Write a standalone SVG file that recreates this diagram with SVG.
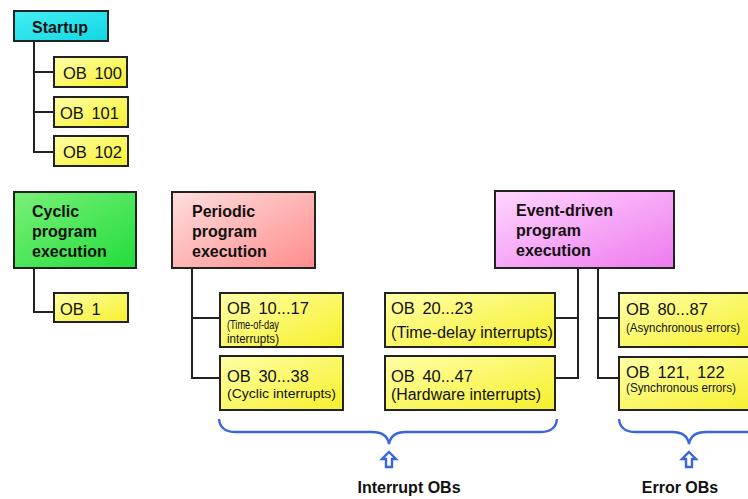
<svg xmlns="http://www.w3.org/2000/svg" width="748" height="499" viewBox="0 0 748 499">
<defs>
<linearGradient id="gy" x1="0" y1="0" x2="1" y2="1"><stop offset="0" stop-color="#ffffa8"/><stop offset="1" stop-color="#f6f02a"/></linearGradient>
<linearGradient id="gc" x1="0" y1="0" x2="1" y2="1"><stop offset="0" stop-color="#44eef4"/><stop offset="1" stop-color="#10d8e4"/></linearGradient>
<linearGradient id="gg" x1="0" y1="0" x2="1" y2="1"><stop offset="0" stop-color="#7af07a"/><stop offset="1" stop-color="#22dd3a"/></linearGradient>
<linearGradient id="gp" x1="0" y1="0" x2="1" y2="1"><stop offset="0" stop-color="#ffdede"/><stop offset="1" stop-color="#ff8c8c"/></linearGradient>
<linearGradient id="gm" x1="0" y1="0" x2="1" y2="1"><stop offset="0" stop-color="#ffd6ff"/><stop offset="1" stop-color="#ee7aee"/></linearGradient>
</defs>
<style>
.box{stroke:#222;stroke-width:2}
.y{fill:url(#gy)}
.h{font-family:"Liberation Sans",Arial,sans-serif;font-weight:bold;font-size:16px;fill:#111}
.t{font-family:"Liberation Sans",Arial,sans-serif;font-size:16.5px;fill:#111;word-spacing:3px}
.s{font-family:"Liberation Sans",Arial,sans-serif;font-size:12.5px;fill:#111}
.m{font-family:"Liberation Sans",Arial,sans-serif;font-size:16px;fill:#111}
.c{fill:none;stroke:#222;stroke-width:2}
.b{fill:none;stroke:#3a66dd;stroke-width:2.4}
</style>
<rect width="748" height="499" fill="#fff"/>
<g id="connectors">
<path class="c" d="M34 41V152H54M34 72H54M34 112H54"/>
<path class="c" d="M34 268V312H54"/>
<path class="c" d="M192 268V378H220M192 318H220"/>
<path class="c" d="M578 268V378H555M578 318H555"/>
<path class="c" d="M598 268V378H619M598 318H619"/>
</g>
<g id="startup"><rect class="box" x="14" y="11" width="94" height="30" fill="url(#gc)"/><text class="h" x="32" y="33">Startup</text></g>
<g id="ob100"><rect class="box y" x="54" y="57" width="73" height="30"/><text class="t" x="63" y="79">OB 100</text></g>
<g id="ob101"><rect class="box y" x="54" y="97" width="74" height="30"/><text class="t" x="60" y="119">OB 101</text></g>
<g id="ob102"><rect class="box y" x="54" y="136" width="74" height="30"/><text class="t" x="63" y="158">OB 102</text></g>
<g id="cyclic"><rect class="box" x="14" y="192" width="122" height="76" fill="url(#gg)"/><text class="h" x="32" y="217">Cyclic</text><text class="h" x="32" y="237">program</text><text class="h" x="32" y="257">execution</text></g>
<g id="ob1"><rect class="box y" x="54" y="293" width="74" height="29"/><text class="t" x="60" y="315">OB 1</text></g>
<g id="periodic"><rect class="box" x="172" y="192" width="143" height="76" fill="url(#gp)"/><text class="h" x="192" y="217">Periodic</text><text class="h" x="192" y="237">program</text><text class="h" x="192" y="257">execution</text></g>
<g id="ob10"><rect class="box y" x="220" y="293" width="123" height="54"/><text class="t" x="227" y="314">OB 10...17</text><text class="s" x="227" y="329" textLength="52" lengthAdjust="spacingAndGlyphs">(Time-of-day</text><text class="s" x="227" y="343" textLength="52" lengthAdjust="spacingAndGlyphs">interrupts)</text></g>
<g id="ob30"><rect class="box y" x="220" y="356" width="123" height="54"/><text class="t" x="227" y="382">OB 30...38</text><text class="s" x="227" y="398" textLength="109" lengthAdjust="spacingAndGlyphs" font-size="13.5px">(Cyclic interrupts)</text></g>
<g id="ob20"><rect class="box y" x="385" y="293" width="170" height="54"/><text class="t" x="391" y="314">OB 20...23</text><text class="m" x="391" y="338" textLength="162" lengthAdjust="spacingAndGlyphs">(Time-delay interrupts)</text></g>
<g id="ob40"><rect class="box y" x="385" y="356" width="170" height="54"/><text class="t" x="391" y="382">OB 40...47</text><text class="m" x="391" y="400" textLength="150" lengthAdjust="spacingAndGlyphs">(Hardware interrupts)</text></g>
<g id="event"><rect class="box" x="495" y="191" width="179" height="77" fill="url(#gm)"/><text class="h" x="516" y="216">Event-driven</text><text class="h" x="516" y="236">program</text><text class="h" x="516" y="256">execution</text></g>
<g id="ob80"><rect class="box y" x="619" y="293" width="140" height="54"/><text class="t" x="626" y="315">OB 80...87</text><text class="s" x="626" y="332" textLength="114" lengthAdjust="spacingAndGlyphs">(Asynchronous errors)</text></g>
<g id="ob121"><rect class="box y" x="619" y="357" width="140" height="53"/><text class="t" x="626" y="378">OB 121, 122</text><text class="s" x="626" y="392" textLength="110" lengthAdjust="spacingAndGlyphs">(Synchronous errors)</text></g>
<g id="interrupt-obs">
<path class="b" d="M219 419Q220 432 236 432H372Q387 432 389 444Q391 432 406 432H540Q556 432 557 419"/>
<path class="b" d="M389 452L396 459H392V467H386V459H382Z"/>
<text class="h" x="409" y="493" text-anchor="middle">Interrupt OBs</text>
</g>
<g id="error-obs">
<path class="b" d="M619 419Q620 432 636 432H672Q687 432 689 444Q691 432 706 432H760"/>
<path class="b" d="M689 452L696 459H692V467H686V459H682Z"/>
<text class="h" x="680" y="493" text-anchor="middle">Error OBs</text>
</g>
</svg>
